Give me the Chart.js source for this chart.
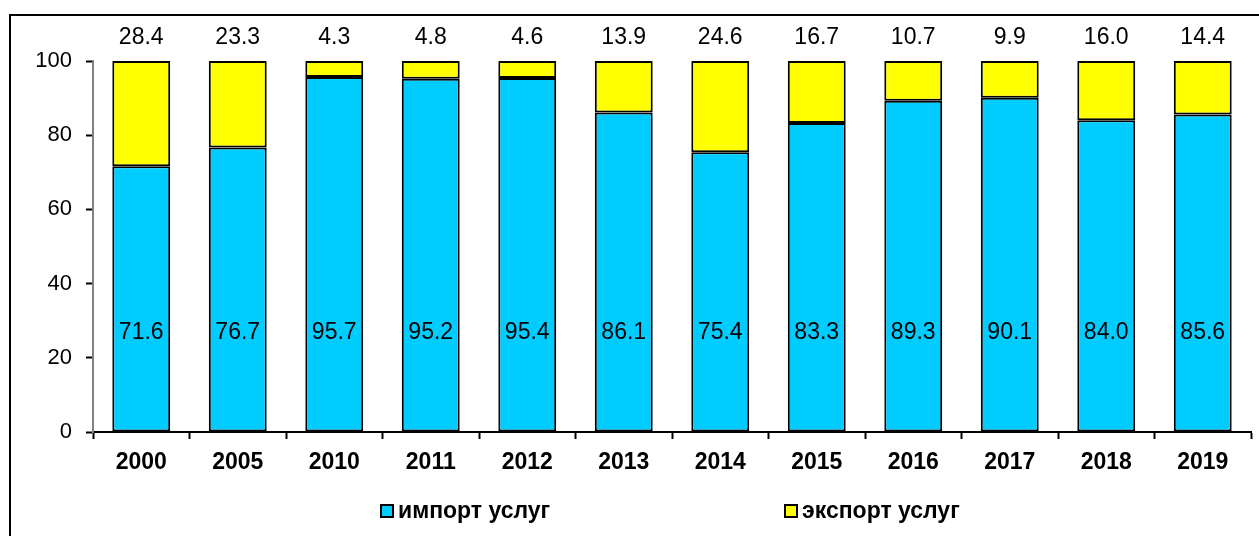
<!DOCTYPE html>
<html>
<head>
<meta charset="utf-8">
<script src="https://cdn.jsdelivr.net/npm/chart.js@4"></script>
<style>
  html, body { margin: 0; padding: 0; background: #fff; overflow: hidden; }
  #wrap { position: relative; width: 1259px; height: 536px; }
</style>
</head>
<body>
<div id="wrap"><canvas id="chartCanvas" width="1259" height="536"></canvas></div>
<script>
// Service import/export shares, percent
const years = ["2000", "2005", "2010", "2011", "2012", "2013", "2014", "2015", "2016", "2017", "2018", "2019"];
const importShare = [71.6, 76.7, 95.7, 95.2, 95.4, 86.1, 75.4, 83.3, 89.3, 90.1, 84.0, 85.6];
const exportShare = [28.4, 23.3, 4.3, 4.8, 4.6, 13.9, 24.6, 16.7, 10.7, 9.9, 16.0, 14.4];
const seriesNames = ["импорт услуг", "экспорт услуг"];

(function () {
  const FONT = "'Liberation Sans', Arial, sans-serif";
  const BLUE = "#00CCFF";
  const YELLOW = "#FFFF00";

  // frame, value labels and legend drawn on top of the chart
  const extras = {
    id: "extras",
    afterDraw(chart) {
      const ctx = chart.ctx;
      const x = chart.scales.x, y = chart.scales.y;
      ctx.save();
      ctx.strokeStyle = "#000";
      ctx.lineWidth = 2;
      ctx.strokeRect(10, 15, 1300, 600);

      ctx.fillStyle = "#000";
      ctx.font = "23px " + FONT;
      ctx.textAlign = "center";
      ctx.textBaseline = "middle";
      years.forEach((yr, i) => {
        const cx = x.getPixelForValue(i);
        ctx.fillText(importShare[i].toFixed(1), cx, y.getPixelForValue(26.8));
        ctx.fillText(exportShare[i].toFixed(1), cx, y.getPixelForValue(106.3));
      });

      // legend
      ctx.font = "bold 23px " + FONT;
      ctx.textAlign = "left";
      const items = [[381, BLUE], [785, YELLOW]];
      items.forEach(([lx, col], k) => {
        ctx.fillStyle = col;
        ctx.fillRect(lx, 505, 12, 12);
        ctx.lineWidth = 2;
        ctx.strokeStyle = "#000";
        ctx.strokeRect(lx, 505, 12, 12);
        ctx.fillStyle = "#000";
        ctx.fillText(seriesNames[k], lx + 17, 512);
      });
      ctx.restore();
    }
  };

  new Chart(document.getElementById("chartCanvas"), {
    type: "bar",
    data: {
      labels: years,
      datasets: [
        { label: seriesNames[0], data: importShare, backgroundColor: BLUE,
          borderColor: "#000", borderWidth: 2, borderSkipped: false,
          categoryPercentage: 1, barPercentage: 0.6 },
        { label: seriesNames[1], data: exportShare, backgroundColor: YELLOW,
          borderColor: "#000", borderWidth: 2, borderSkipped: false,
          categoryPercentage: 1, barPercentage: 0.6 }
      ]
    },
    options: {
      responsive: false,
      animation: false,
      layout: { padding: { left: 10, right: 8, top: 61, bottom: 0 } },
      plugins: { legend: { display: false }, tooltip: { enabled: false } },
      scales: {
        x: {
          stacked: true,
          afterFit: s => { s.height = 104; },
          grid: { drawOnChartArea: false, drawTicks: true, tickLength: 7, tickColor: "#000", tickWidth: 2, offset: true },
          border: { color: "#000", width: 2 },
          ticks: { color: "#000", font: { family: FONT, size: 23, weight: "bold" }, padding: 10 }
        },
        y: {
          stacked: true,
          min: 0, max: 100,
          afterFit: s => { s.width = 83; },
          grid: { drawOnChartArea: false, drawTicks: true, tickLength: 7, tickColor: "#000", tickWidth: 2 },
          border: { color: "#808080", width: 2 },
          ticks: { stepSize: 20, color: "#000", font: { family: FONT, size: 22 }, padding: 14 }
        }
      }
    },
    plugins: [extras]
  });
})();
</script>
</body>
</html>
